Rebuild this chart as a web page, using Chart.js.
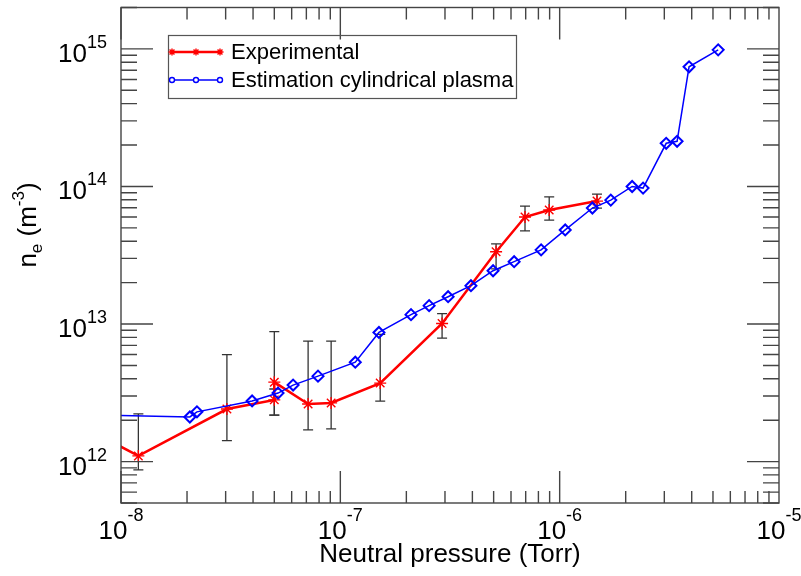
<!DOCTYPE html>
<html>
<head>
<meta charset="utf-8">
<script src="https://cdn.jsdelivr.net/npm/chart.js@4.4.0/dist/chart.umd.min.js"></script>
<style>
html,body{margin:0;padding:0;background:#fff}
#wrap{width:801px;height:576px}
</style>
</head>
<body>
<div id="wrap"><canvas id="c" width="801" height="576"></canvas></div>
<script>
// ---- data ----
// Experimental: pressure (Torr), density (m^-3), error bar low / high
const expP =[9e-9,1.20e-8,3.04e-8,5.0e-8,5.0e-8,7.13e-8,9.08e-8,1.52e-7,2.91e-7,5.13e-7,6.95e-7,8.96e-7,1.48e-6];
const expN =[1.40e12,1.10e12,2.41e12,2.81e12,3.78e12,2.62e12,2.67e12,3.72e12,1.01e13,3.35e13,6.0e13,6.75e13,7.83e13];
const expLo=[null,8.7e11,1.42e12,2.18e12,2.18e12,1.70e12,1.73e12,2.75e12,7.9e12,2.52e13,4.75e13,5.7e13,6.96e13];
const expHi=[null,2.22e12,6.0e12,3.37e12,8.8e12,7.5e12,7.5e12,8.4e12,1.19e13,3.83e13,7.2e13,8.4e13,8.8e13];
// Estimation cylindrical plasma
const cylP=[8e-9,2.06e-8,2.22e-8,3.96e-8,5.20e-8,6.09e-8,7.91e-8,1.17e-7,1.50e-7,2.10e-7,2.54e-7,3.10e-7,3.94e-7,4.97e-7,6.20e-7,8.23e-7,1.06e-6,1.41e-6,1.71e-6,2.14e-6,2.40e-6,3.06e-6,3.43e-6,3.89e-6,5.28e-6];
const cylN=[2.18e12,2.11e12,2.30e12,2.76e12,3.15e12,3.60e12,4.18e12,5.28e12,8.69e12,1.17e13,1.36e13,1.58e13,1.90e13,2.44e13,2.84e13,3.46e13,4.83e13,6.97e13,7.96e13,1.00e14,9.73e13,2.06e14,2.13e14,7.41e14,9.84e14];
// tick labels (powers of ten)
const xTickExp=[-8,-7,-6,-5];
const yTickExp=[12,13,14,15];
const seriesNames=['Experimental','Estimation cylindrical plasma'];

const FONT='"Liberation Sans", Arial, Helvetica, sans-serif';
const RED='#ff0000',BLUE='#0000ff';

// draws a run of text parts (for super/subscripts), left to right
function richText(ctx,parts,x,y,align){
  let w=0;
  parts.forEach(p=>{ctx.font=p.s+'px '+FONT;p.w=ctx.measureText(p.t).width;w+=p.w;});
  let cx=align==='center'?x-w/2:align==='right'?x-w:x;
  ctx.textAlign='left';ctx.textBaseline='alphabetic';
  parts.forEach(p=>{ctx.font=p.s+'px '+FONT;ctx.fillText(p.t,cx,y+(p.dy||0));cx+=p.w;});
}

// ---- error bars, drawn under the lines ----
const errorBars={id:'errorBars',beforeDatasetsDraw(chart){
  const {ctx,chartArea:a,scales:{x,y}}=chart;
  ctx.save();
  ctx.beginPath();ctx.rect(a.left,a.top,a.right-a.left,a.bottom-a.top);ctx.clip();
  ctx.strokeStyle='#333';ctx.lineWidth=1.3;
  expP.forEach((p,i)=>{
    if(expLo[i]==null)return;
    const px=x.getPixelForValue(p),lo=y.getPixelForValue(expLo[i]),hi=y.getPixelForValue(expHi[i]);
    ctx.beginPath();
    ctx.moveTo(px,lo);ctx.lineTo(px,hi);
    ctx.moveTo(px-5,lo);ctx.lineTo(px+5,lo);
    ctx.moveTo(px-5,hi);ctx.lineTo(px+5,hi);
    ctx.stroke();
  });
  ctx.restore();
}};

// ---- frame, inward ticks, labels, legend ----
const frame={id:'frame',afterDraw(chart){
  const {ctx,chartArea:a,scales:{x,y}}=chart;
  ctx.save();
  ctx.strokeStyle='#444';ctx.lineWidth=1.4;
  ctx.strokeRect(a.left,a.top,a.right-a.left,a.bottom-a.top);
  ctx.beginPath();
  for(let e=-8;e<-5;e++)for(let m=1;m<10;m++){
    const px=x.getPixelForValue(m*Math.pow(10,e)),len=m===1?32:12;
    ctx.moveTo(px,a.bottom);ctx.lineTo(px,a.bottom-len);
    ctx.moveTo(px,a.top);ctx.lineTo(px,a.top+len);
  }
  for(let e=11;e<16;e++)for(let m=1;m<10;m++){
    const v=m*Math.pow(10,e);
    if(v<5e11||v>2e15)continue;
    const py=y.getPixelForValue(v),len=m===1?32:16;
    ctx.moveTo(a.left,py);ctx.lineTo(a.left+len,py);
    ctx.moveTo(a.right,py);ctx.lineTo(a.right-len,py);
  }
  ctx.stroke();

  ctx.fillStyle='#000';
  xTickExp.forEach(e=>{
    richText(ctx,[{t:'10',s:26},{t:String(e),s:18,dy:-18}],x.getPixelForValue(Math.pow(10,e)),a.bottom+36,'center');
  });
  yTickExp.forEach(e=>{
    richText(ctx,[{t:'10',s:26},{t:String(e),s:18,dy:-14}],a.left-14,y.getPixelForValue(Math.pow(10,e))+13,'right');
  });
  richText(ctx,[{t:'Neutral pressure (Torr)',s:26}],(a.left+a.right)/2,562,'center');
  ctx.save();
  ctx.translate(36,225);ctx.rotate(-Math.PI/2);
  richText(ctx,[{t:'n',s:26},{t:'e',s:17,dy:6},{t:' (m',s:26},{t:'-3',s:17,dy:-12},{t:')',s:26}],0,0,'center');
  ctx.restore();

  // legend
  ctx.strokeStyle='#555';ctx.lineWidth=1.2;
  ctx.strokeRect(168.5,35.5,348,63);
  const rows=[{y:52,c:RED,w:2.5,mk:'star',r:3.5},{y:80,c:BLUE,w:1.5,mk:'circle',r:2.5}];
  rows.forEach((r,i)=>{
    ctx.strokeStyle=r.c;ctx.lineWidth=r.w;
    ctx.beginPath();ctx.moveTo(172,r.y);ctx.lineTo(220,r.y);ctx.stroke();
    ctx.lineWidth=1.4;ctx.fillStyle='#fff';
    [172,196,220].forEach(mx=>{
      Chart.helpers.drawPoint(ctx,{pointStyle:r.mk,radius:r.r,rotation:0,borderWidth:1.4},mx,r.y);
    });
    ctx.fillStyle='#000';
    ctx.font='22px '+FONT;ctx.textAlign='left';ctx.textBaseline='middle';
    ctx.fillText(seriesNames[i],231,r.y+1);
  });
  ctx.restore();
}};

new Chart(document.getElementById('c'),{
  type:'scatter',
  data:{datasets:[
    {label:seriesNames[1],data:cylP.map((p,i)=>({x:p,y:cylN[i]})),showLine:true,
     borderColor:BLUE,borderWidth:1.5,pointStyle:'rectRot',pointRadius:5.5,pointBorderWidth:2,
     pointBorderColor:BLUE,pointBackgroundColor:'rgba(0,0,0,0)',clip:0,tension:0},
    {label:seriesNames[0],data:expP.map((p,i)=>({x:p,y:expN[i]})),showLine:true,
     borderColor:RED,borderWidth:2.5,pointStyle:'star',pointRadius:6,pointBorderWidth:1.4,
     pointBorderColor:RED,pointBackgroundColor:'rgba(0,0,0,0)',clip:0,tension:0}
  ]},
  options:{
    responsive:false,animation:false,
    layout:{padding:{left:121,right:22,top:5,bottom:73}},
    scales:{
      x:{type:'logarithmic',min:1e-8,max:1e-5,display:false},
      y:{type:'logarithmic',min:5e11,max:2e15,display:false}
    },
    plugins:{legend:{display:false},tooltip:{enabled:false}}
  },
  plugins:[errorBars,frame]
});
</script>
</body>
</html>
